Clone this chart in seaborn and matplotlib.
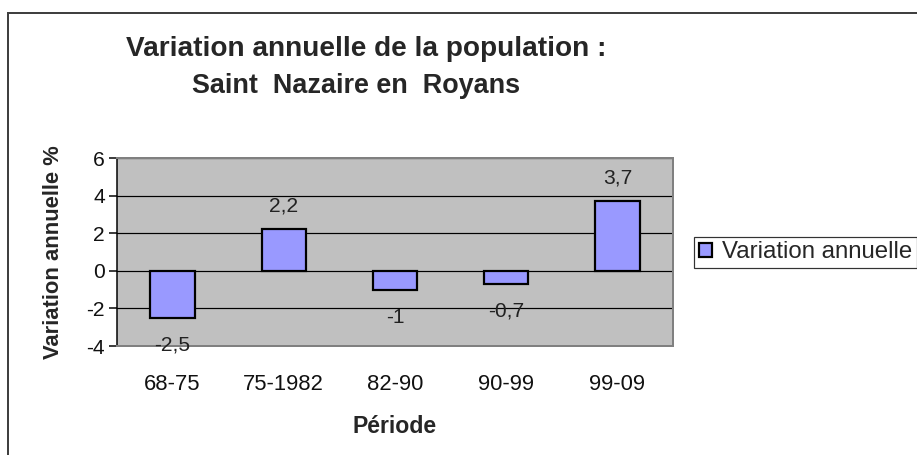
import matplotlib
matplotlib.use("Agg")
import matplotlib.pyplot as plt
from matplotlib.patches import Rectangle
import seaborn as sns
import pandas as pd

periodes = ["68-75", "75-1982", "82-90", "90-99", "99-09"]
variation = [-2.5, 2.2, -1.0, -0.7, 3.7]
serie = "Variation annuelle"
titre = ["Variation annuelle de la population :", "Saint  Nazaire en  Royans"]

df = pd.DataFrame({"Période": periodes, "Variation": variation})

sns.set_theme(style="white")
plt.rcParams["font.family"] = ["Liberation Sans", "DejaVu Sans"]
plt.rcParams["axes.unicode_minus"] = False

W, H, DPI = 917, 455, 72
fig = plt.figure(figsize=(W / DPI, H / DPI), dpi=DPI)
fig.patch.set_facecolor("white")

# chart frame (open on right and bottom)
fig.add_artist(Rectangle((8 / W, -0.1), 1.2, 1 - 12.5 / H + 0.1,
                         transform=fig.transFigure, fill=False,
                         edgecolor="#404040", linewidth=2))

ax = fig.add_axes([117 / W, 1 - 346 / H, (673 - 117) / W, (346 - 158) / H])
ax.set_facecolor("#C0C0C0")

sns.barplot(data=df, x="Période", y="Variation", ax=ax, width=0.4,
            color="#9999FF", edgecolor="black", linewidth=2.2,
            saturation=1, label=serie, zorder=3)

ax.set_ylim(-4, 6)
ax.set_yticks(range(-4, 7, 2))
ax.set_xlim(-0.5, len(periodes) - 0.5)
ax.yaxis.grid(True, color="black", linewidth=1.2, zorder=1)
ax.set_axisbelow(True)

for s in ["top", "right", "bottom"]:
    ax.spines[s].set_color("#808080")
    ax.spines[s].set_linewidth(2)
ax.spines["left"].set_color("black")
ax.spines["left"].set_linewidth(1.5)
ax.tick_params(axis="y", which="major", left=True, length=8, width=1.5,
               color="black", labelsize=21, pad=4, labelcolor="#111111")
ax.tick_params(axis="x", bottom=False, labelsize=22, pad=22,
               labelcolor="#111111")

ax.set_xlabel("Période", fontsize=23, fontweight="bold", labelpad=20)
ax.set_ylabel("Variation annuelle %", fontsize=22, fontweight="bold",
              labelpad=22)

# value labels with comma decimal separator
for i, v in enumerate(variation):
    txt = f"{v:g}".replace(".", ",")
    if v >= 0:
        ax.annotate(txt, (i, v), xytext=(0, 14), textcoords="offset points",
                    ha="center", va="bottom", fontsize=21, color="#222222")
    else:
        ax.annotate(txt, (i, v), xytext=(0, -18), textcoords="offset points",
                    ha="center", va="top", fontsize=21, color="#222222")

fig.text(366 / W, 1 - 56 / H, titre[0], ha="center", va="baseline",
         fontsize=28, fontweight="bold")
fig.text(356 / W, 1 - 93 / H, titre[1], ha="center", va="baseline",
         fontsize=27, fontweight="bold")

leg = ax.legend(loc="center left", bbox_to_anchor=(694 / W, 1 - 252.5 / H),
                bbox_transform=fig.transFigure, frameon=True, fancybox=False,
                fontsize=24, handlelength=0.55, handleheight=0.55,
                handletextpad=0.4, borderpad=0.2, borderaxespad=0)
leg.get_frame().set_edgecolor("black")
leg.get_frame().set_linewidth(1.2)

fig.savefig("out.png", dpi=DPI, facecolor="white")
